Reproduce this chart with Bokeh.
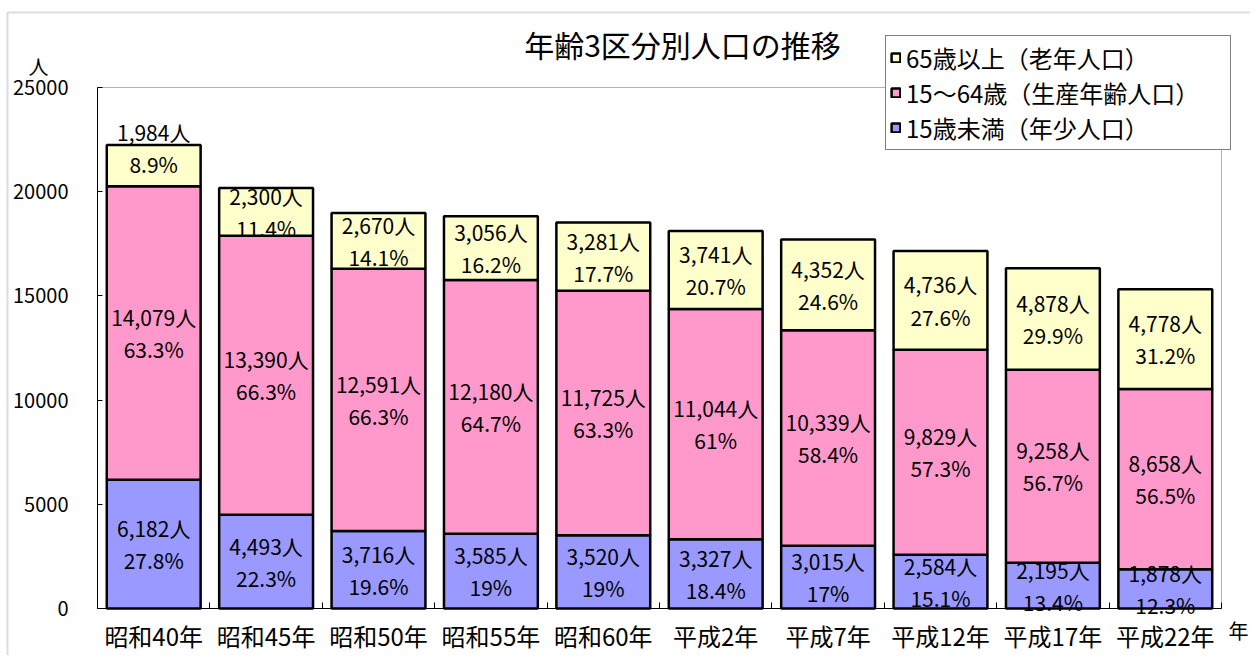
from bokeh.plotting import figure
from bokeh.models import (ColumnDataSource, Legend, LegendItem, FixedTicker, Label,
                          BasicTickFormatter, BoxAnnotation)
from bokeh.embed import file_html
from bokeh.resources import INLINE
from bokeh.core.properties import value

# ---------------- data ----------------
categories = ["昭和40年", "昭和45年", "昭和50年", "昭和55年", "昭和60年",
              "平成2年", "平成7年", "平成12年", "平成17年", "平成22年"]
young = [6182, 4493, 3716, 3585, 3520, 3327, 3015, 2584, 2195, 1878]          # 15歳未満
work = [14079, 13390, 12591, 12180, 11725, 11044, 10339, 9829, 9258, 8658]    # 15～64歳
old = [1984, 2300, 2670, 3056, 3281, 3741, 4352, 4736, 4878, 4778]            # 65歳以上
young_pct = [27.8, 22.3, 19.6, 19, 19, 18.4, 17, 15.1, 13.4, 12.3]
work_pct = [63.3, 66.3, 66.3, 64.7, 63.3, 61, 58.4, 57.3, 56.7, 56.5]
old_pct = [8.9, 11.4, 14.1, 16.2, 17.7, 20.7, 24.6, 27.6, 29.9, 31.2]
y_ticks = [0, 5000, 10000, 15000, 20000, 25000]
y_max = 25000
series_names = ["65歳以上（老年人口）", "15～64歳（生産年齢人口）", "15歳未満（年少人口）"]
title_text = "年齢3区分別人口の推移"

FONT = "Noto Sans CJK JP"
C_OLD, C_WORK, C_YOUNG = "#FFFFCC", "#FF99CC", "#9999FF"

# ---------------- layout (pixels) ----------------
W, H = 1250, 655
PL, PR, PT, PB = 97, 1221, 87, 608      # plot-area box on the canvas

n = len(categories)
def px2x(px):
    return (px - PL) * n / (PR - PL)
def py2y(py):
    return (PB - py) * y_max / (PB - PT)

xs = [i + 0.5 for i in range(n)]
src = ColumnDataSource(dict(x=xs, young=young, work=work, old=old))

p = figure(width=W, height=H, x_range=(px2x(0), px2x(W)), y_range=(py2y(H), py2y(0)),
           output_backend="svg", toolbar_location=None, min_border=0)
p.title.visible = False
p.xgrid.visible = False
p.ygrid.visible = False
p.outline_line_color = None
p.background_fill_color = "white"
p.border_fill_color = "white"

# outer chart frame
p.add_layout(BoxAnnotation(left=px2x(7), top=py2y(12), right=px2x(W + 30), bottom=py2y(H + 30),
                           fill_alpha=0, line_color="#8c8c8c", line_width=2))
# plot-area frame
p.add_layout(BoxAnnotation(left=0, right=n, bottom=0, top=y_max,
                           fill_alpha=0, line_color="black", line_width=1))

renderers = p.vbar_stack(["young", "work", "old"], x="x", width=0.835, source=src,
                         fill_color=[C_YOUNG, C_WORK, C_OLD], line_color="black",
                         line_width=2.5)

# ---------------- labels in bars ----------------
def lab(vals, pcts):
    return [f"{v:,}人\n{pc:g}%" for v, pc in zip(vals, pcts)]

y_young = [v / 2 for v in young]
y_work = [a + b / 2 for a, b in zip(young, work)]
y_old = [a + b + c / 2 for a, b, c in zip(young, work, old)]
old_dy = [-18 if v < 2000 else 0 for v in old]

lsrc = ColumnDataSource(dict(
    x=xs * 3,
    y=y_young + y_work + y_old,
    t=lab(young, young_pct) + lab(work, work_pct) + lab(old, old_pct),
    dy=[0] * n + [0] * n + old_dy,
))
p.text(x="x", y="y", text="t", y_offset="dy", source=lsrc, text_align="center",
       text_baseline="middle", text_font=value(FONT), text_font_size="21px",
       text_color="black", text_line_height=1.07)

# ---------------- axes ----------------
yax = p.yaxis[0]
yax.fixed_location = 0
yax.bounds = (0, y_max)
yax.ticker = FixedTicker(ticks=y_ticks)
yax.formatter = BasicTickFormatter(use_scientific=False)
yax.major_tick_in = 5
yax.major_tick_out = 0
yax.minor_tick_line_color = None
yax.major_label_standoff = 29
yax.major_label_text_font = FONT
yax.major_label_text_font_size = "20px"
yax.major_label_text_color = "black"
yax.axis_line_color = "black"

xax = p.xaxis[0]
xax.fixed_location = 0
xax.bounds = (0, n)
xax.ticker = FixedTicker(ticks=xs, minor_ticks=list(range(n + 1)))
xax.major_label_overrides = {x: c for x, c in zip(xs, categories)}
xax.major_tick_in = 0
xax.major_tick_out = 0
xax.minor_tick_in = 6
xax.minor_tick_out = 0
xax.minor_tick_line_color = "black"
xax.major_label_standoff = 9
xax.major_label_text_font = FONT
xax.major_label_text_font_size = "24px"
xax.major_label_text_color = "black"
xax.axis_line_color = "black"

# ---------------- texts ----------------
p.add_layout(Label(x=px2x(682), y=py2y(43), text=title_text, text_align="center",
                   text_baseline="middle", text_font=FONT, text_font_size="30px",
                   text_color="black"))
p.add_layout(Label(x=px2x(38), y=py2y(66), text="人", text_align="center",
                   text_baseline="middle", text_font=FONT, text_font_size="20px",
                   text_color="black"))
p.add_layout(Label(x=px2x(1238), y=py2y(630), text="年", text_align="center",
                   text_baseline="middle", text_font=FONT, text_font_size="20px",
                   text_color="black"))

# ---------------- legend ----------------
legend = Legend(items=[LegendItem(label=series_names[0], renderers=[renderers[2]]),
                       LegendItem(label=series_names[1], renderers=[renderers[1]]),
                       LegendItem(label=series_names[2], renderers=[renderers[0]])],
                location=(885, H - 150), orientation="vertical",
                border_line_color="black", border_line_width=1,
                background_fill_color="white", background_fill_alpha=1,
                label_text_font=FONT, label_text_font_size="24px",
                label_text_color="black", glyph_width=11, glyph_height=11,
                label_standoff=5, padding=4, spacing=0, margin=0,
                label_height=30, label_width=320)
p.add_layout(legend, "center")

open("out.html", "w").write(file_html(p, INLINE))
